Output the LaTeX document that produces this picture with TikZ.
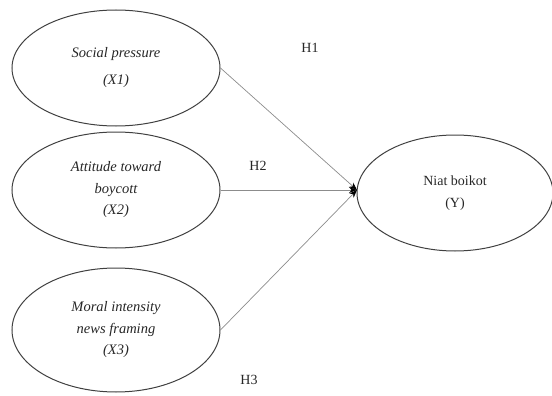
\documentclass[tikz,border=0pt]{standalone}
\usepackage{fontspec}
\setmainfont{Liberation Serif}
\usetikzlibrary{shapes.geometric,arrows.meta}
\begin{document}
\begin{tikzpicture}[x=1pt,y=-1pt,
  var/.style={draw=black!75,line width=1pt,ellipse,inner sep=0pt,
    minimum width=208pt,minimum height=116pt,align=center,
    font=\fontsize{14.5}{21.5}\selectfont\itshape,text=black!85},
  dep/.style={var,font=\fontsize{14}{22}\selectfont,minimum width=196pt},
  link/.style={draw=black!45,line width=0.7pt,-{Stealth[length=8pt,width=6pt,color=black]}},
  hyp/.style={font=\fontsize{14}{16}\selectfont,text=black!85}]
\useasboundingbox (0,0) rectangle (552,396);
\node[var,font=\fontsize{14.5}{27}\selectfont\itshape] (x1) at (116,68) {Social pressure\\(X1)};
\node[var] (x2) at (116,190) {Attitude toward\\boycott\\(X2)};
\node[var,minimum height=124pt] (x3) at (116,330) {Moral intensity\\news framing\\(X3)};
\node[dep] (y) at (455,193) {Niat boikot\\(Y)};
\coordinate (tip) at (357,190);
\draw[link] (x1.east) -- (tip);
\draw[link] (x2.east) -- (tip);
\draw[link] (x3.east) -- (tip);
\node[hyp] (h1) at (310,48) {H1};
\node[hyp] (h2) at (258,166) {H2};
\node[hyp] (h3) at (249,380) {H3};
\end{tikzpicture}
\end{document}
